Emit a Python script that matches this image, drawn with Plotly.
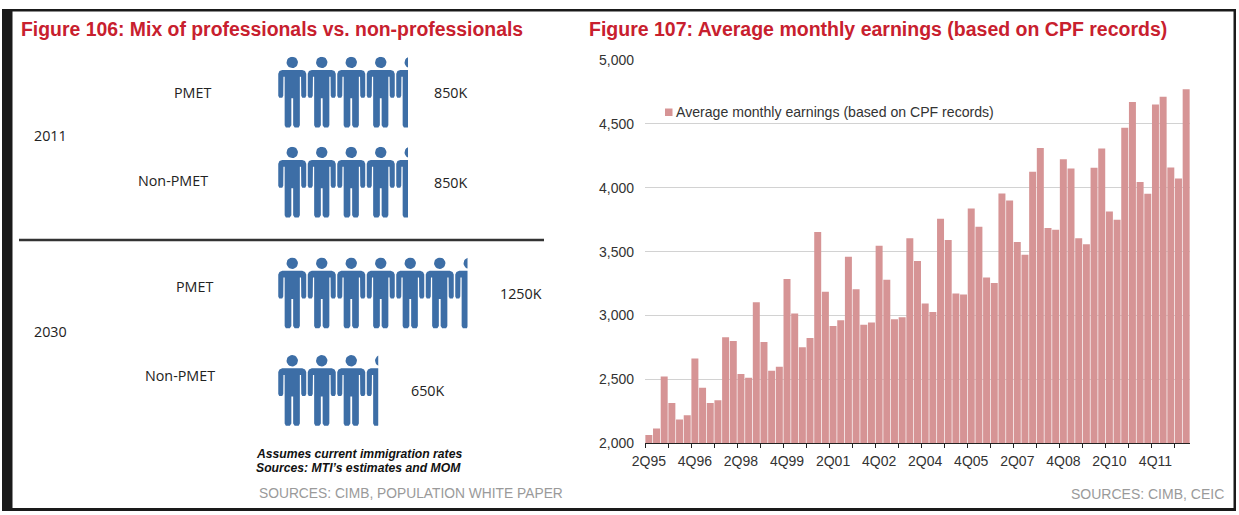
import math
import plotly.graph_objects as go

# ---- Figure 107 data ----
quarters = [f"{q}Q{(y % 100):02d}" for y in range(1995, 2013) for q in range(1, 5)][1:]
earnings = [2065, 2115, 2523, 2315, 2187, 2219, 2664, 2435, 2315, 2336, 2830, 2800,
            2542, 2513, 3104, 2792, 2568, 2599, 3286, 3015, 2752, 2825, 3653, 3187,
            2919, 2963, 3461, 3206, 2927, 2945, 3547, 3281, 2971, 2987, 3604, 3427,
            3094, 3028, 3758, 3591, 3172, 3164, 3838, 3695, 3297, 3255, 3955, 3901,
            3575, 3476, 4125, 4312, 3685, 3672, 4224, 4151, 3604, 3557, 4156, 4307,
            3815, 3750, 4469, 4672, 4045, 3953, 4651, 4713, 4158, 4073, 4772]
x_tick_labels = ["2Q95", "4Q96", "2Q98", "4Q99", "2Q01", "4Q02", "2Q04", "4Q05", "2Q07", "4Q08", "2Q10", "4Q11"]
y_ticks = [2000, 2500, 3000, 3500, 4000, 4500, 5000]

# ---- Figure 106 data (thousands of people) ----
row_labels = ["PMET", "Non-PMET", "PMET", "Non-PMET"]
row_years = [2011, 2011, 2030, 2030]
row_values = [850, 850, 1250, 650]

W, H = 1239, 515
BLUE = "#3D6EA6"
BAR = "#D69495"
RED = "#C8202E"
SANS = "Liberation Sans, Arial, sans-serif"
HUM = "Open Sans, sans-serif"


def px(x):
    return x / W


def py(y):
    return 1 - y / H


# person glyph, in pixels relative to its centre / head top
def person_outline():
    half = [(0, 13.3), (10, 13.3), (12.8, 14.4), (14, 17), (14, 39), (13, 41), (10, 41), (9, 39), (8.8, 20),
            (7.6, 20), (7.6, 68.5), (6.4, 70.8), (2.4, 70.8), (0.9, 68.5), (0.9, 41.5), (0, 41.5)]
    body = half + [(-a, b) for a, b in reversed(half)]
    head = [(5.7 * math.cos(t * math.pi / 12), 5.7 + 5.7 * math.sin(t * math.pi / 12)) for t in range(25)]
    return body, head


PX_PER_K = 0.1488
PAD_K = 27
PITCH_K = 29.5 / PX_PER_K
row_tops = [56.7, 146.7, 257.5, 355]
ICON_LEFT = 277.5

fig = go.Figure()
fig.add_trace(go.Bar(x=quarters, y=earnings, marker=dict(color=BAR, line=dict(width=0)),
                     name="Average monthly earnings (based on CPF records)", showlegend=False))

layout_axes = {}
body, head = person_outline()
for i, (value, top) in enumerate(zip(row_values, row_tops)):
    n = i + 2
    xs, ys = [], []
    count = math.ceil((value + PAD_K) / PITCH_K)
    for k in range(count):
        cx = -PAD_K + (k + 0.5) * PITCH_K
        for part in (body, head):
            xs += [cx + a / PX_PER_K for a, b in part] + [cx + part[0][0] / PX_PER_K, None]
            ys += [b for a, b in part] + [part[0][1], None]
    fig.add_trace(go.Scatter(x=xs, y=ys, xaxis=f"x{n}", yaxis=f"y{n}", mode="lines", fill="toself",
                             fillcolor=BLUE, line=dict(width=0, color=BLUE), hoverinfo="skip",
                             name=f"{row_years[i]} {row_labels[i]}", showlegend=False))
    right = ICON_LEFT + (value + PAD_K) * PX_PER_K
    hidden = dict(visible=False, showgrid=False, zeroline=False, fixedrange=True, automargin=False)
    layout_axes[f"xaxis{n}"] = dict(hidden, domain=[px(ICON_LEFT), px(right)], range=[-PAD_K, value], anchor=f"y{n}")
    layout_axes[f"yaxis{n}"] = dict(hidden, domain=[py(top + 72), py(top)], range=[72, 0], anchor=f"x{n}")

ann = []


def text(x, y, s, size=14.3, color="#222", family=HUM, anchor="center"):
    ann.append(dict(x=px(x), y=py(y), xref="paper", yref="paper", text=s, showarrow=False, xanchor=anchor,
                    yanchor="middle", font=dict(size=size, color=color, family=family), align="left",
                    xshift=0, yshift=0, borderpad=0))


text(20, 29, "<b>Figure 106: Mix of professionals vs. non-professionals</b>", 19.4, RED, SANS, "left")
text(588, 29, "<b>Figure 107: Average monthly earnings (based on CPF records)</b>", 19.5, RED, SANS, "left")
text(50, 136, str(row_years[0]))
text(50, 331, str(row_years[2]))
text(193, 92, row_labels[0])
text(173, 181, row_labels[1])
text(194, 286, row_labels[2])
text(180, 375, row_labels[3])
text(451, 93, f"{row_values[0]}K")
text(451, 182, f"{row_values[1]}K")
text(521, 293, f"{row_values[2]}K")
text(428, 390, f"{row_values[3]}K")
text(255, 453.5, "<b><i>Assumes current immigration rates</i></b>", 12.2, "#111", SANS, "left")
text(255, 468, "<b><i>Sources: MTI\u2019s estimates and MOM</i></b>", 12.2, "#111", SANS, "left")
text(563.5, 493, "SOURCES: CIMB, POPULATION WHITE PAPER", 13.8, "#9a9a9a", SANS, "right")
text(1225, 494, "SOURCES: CIMB, CEIC", 14, "#9a9a9a", SANS, "right")
text(675, 112, "Average monthly earnings (based on CPF records)", 14.1, "#333", SANS, "left")

shapes = [
    dict(type="rect", xref="paper", yref="paper", x0=px(665), x1=px(672.5), y0=py(116), y1=py(108.5),
         fillcolor=BAR, line=dict(width=0)),
    dict(type="line", xref="paper", yref="paper", x0=px(19), x1=px(544), y0=py(240), y1=py(240),
         line=dict(color="#333", width=2.5)),
    # page frame
    dict(type="rect", xref="paper", yref="paper", x0=px(2), x1=px(12.5), y0=py(511), y1=py(9),
         fillcolor="#1a1a1a", line=dict(width=0)),
    dict(type="rect", xref="paper", yref="paper", x0=px(2), x1=px(1236), y0=py(11.5), y1=py(9),
         fillcolor="#1a1a1a", line=dict(width=0)),
    dict(type="rect", xref="paper", yref="paper", x0=px(2), x1=px(1236), y0=py(511), y1=py(508),
         fillcolor="#1a1a1a", line=dict(width=0)),
    dict(type="rect", xref="paper", yref="paper", x0=px(1233.5), x1=px(1236), y0=py(511), y1=py(9),
         fillcolor="#1a1a1a", line=dict(width=0)),
]

fig.update_layout(
    width=W, height=H, margin=dict(l=0, r=0, t=0, b=0, pad=0, autoexpand=False),
    paper_bgcolor="white", plot_bgcolor="white",
    bargap=0.09, showlegend=False, annotations=ann, shapes=shapes,
    xaxis=dict(domain=[px(645), px(1190)], type="category", categoryorder="array", categoryarray=quarters,
               range=[-0.5, len(quarters) - 0.5], tickmode="array", tickvals=x_tick_labels, ticktext=x_tick_labels,
               ticks="", showline=True, linecolor="#222", linewidth=1, showgrid=False, tickangle=0, automargin=False,
               ticklabelstandoff=5, tickfont=dict(size=14, color="#333", family=SANS),
               minor=dict(ticks="outside", ticklen=4, tickcolor="#222", tickwidth=1, tickmode="array",
                          tickvals=[k * 3 - 0.5 for k in range(24)], showgrid=False)),
    yaxis=dict(domain=[py(443.3), py(60)], range=[2000, 5000], tickmode="array", tickvals=y_ticks,
               tickformat=",d", showgrid=True, gridcolor="#d2d2d2", gridwidth=1, zeroline=False, automargin=False,
               ticks="", showline=False, ticklabelstandoff=10,
               tickfont=dict(size=14, color="#333", family=SANS)),
    **layout_axes,
)
fig.write_html("out.html", config={"displayModeBar": False},
               post_script="document.body.style.margin='0';document.documentElement.style.overflow='hidden';")
